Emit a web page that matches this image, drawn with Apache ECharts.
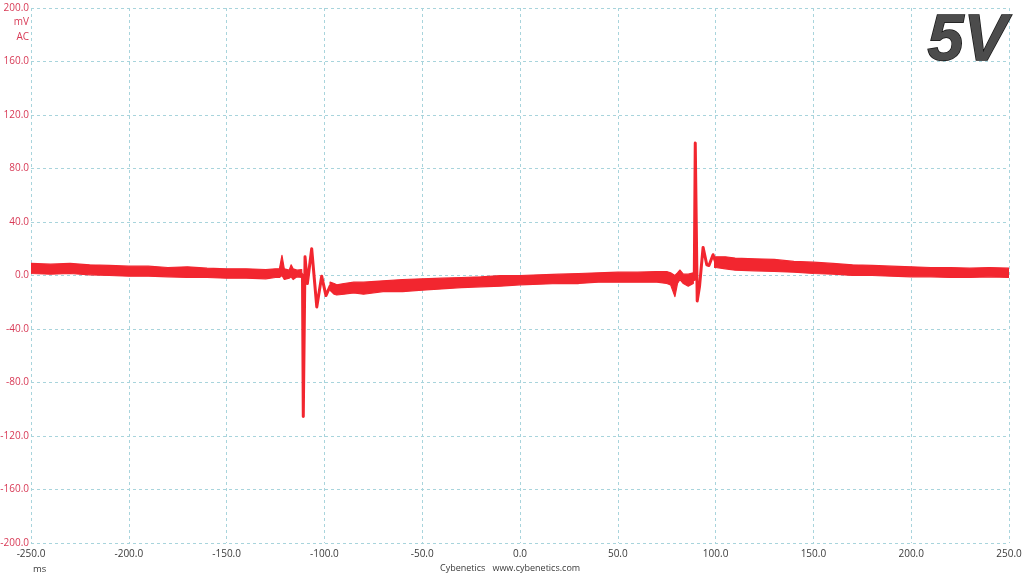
<!DOCTYPE html>
<html><head><meta charset="utf-8">
<script src="https://cdn.jsdelivr.net/npm/echarts@6/dist/echarts.min.js"></script>
<style>html,body{margin:0;padding:0;background:#fff}#c{width:1024px;height:576px}</style>
</head><body><div id="c"></div>
<script>
// Noise band: time (ms) with upper/lower envelope (mV); null breaks the band where the transient trace is drawn
const timeMs = [-250,-240,-230,-220,-210,-200,-190,-180,-170,-160,-150,-140,-130,-125,-123,-121.7,-120.5,-118,-117,-116,-114,-111.6,-105,-97.1,-95,-93.7,-90,-85,-80,-70,-60,-50,-40,-30,-20,-10,0,10,20,30,40,50,60,70,75,77,79.2,80.5,81.8,83.5,86,88.6,94,99.5,100,105,110,120,130,140,150,160,170,180,190,200,210,220,230,240,250];
const upperMv = [9,8.5,9,8,7.5,7,7,6,6.5,5.5,5,5,4.5,5,5,15,5,4,8,5,4,4.5,null,-5,-6,-7,-6,-5,-5,-4,-3,-2.5,-2,-1.5,-1,0,0,0.5,1,1.5,2,2.5,2.5,3,3,2,0,2,4.1,1,1,2,null,13,14,14,13,12.5,12,10.5,10,9,8,7.5,7,6.5,6,6,5.5,6,5.5];
const lowerMv = [1.5,1,1.5,0.5,0,-0.5,-0.5,-1,-1.5,-1.5,-2,-2,-2.5,-1.5,-1.5,0,-3,-2,-1,-3,-1,-1.5,null,-11,-14,-14.6,-14,-13,-14,-12,-12,-11,-10,-9,-8.5,-8,-7,-6.5,-6,-6,-5,-5,-5,-5,-6,-7,-15.8,-6,-3,-6,-8,-6,null,6,6,5,4,3.5,3,2.5,1.5,1,0,0,-0.5,-1,-1,-1.5,-1.5,-1,-1.5];
// Transient traces (ms, mV)
const spikeTimeMs = [-112,-111.2,-110.8,-109.9,-108.7,-106.5,-103.9,-101.4,-99.2,-97.1,-95.8, null, 88,89.1,89.6,90.6,91.8,93.6,95.5,96.6,98.7,100];
const spikeMv     = [1.5,0,-105.5,14,-6,20,-23.5,-0.5,-15,-8,-9, null, -2,-3,99,-19,-8,21,8,7.5,15.5,10];
const xTicks = {min:-250, max:250, step:50};
const yTicks = {min:-200, max:200, step:40};

const bandData = timeMs.map((t,i)=>[t, upperMv[i], lowerMv[i]]);
const spikeData = spikeTimeMs.map((t,i)=> t===null ? [null,null] : [t, spikeMv[i]]);
const RED = '#f2262f';
const chart = echarts.init(document.getElementById('c'));
const gridLine = {show:true, lineStyle:{color:'#a8d4dc', type:[3,3], width:1}};
chart.setOption({
  animation:false,
  textStyle:{fontFamily:'Open Sans'},
  grid:{left:31, right:15, top:8, bottom:33, containLabel:false, outerBoundsMode:'none'},
  xAxis:{type:'value', min:xTicks.min, max:xTicks.max, interval:xTicks.step,
    axisLine:{show:false}, axisTick:{show:false}, splitLine:gridLine,
    axisLabel:{color:'#3a3a3a', fontSize:10, margin:6, formatter:v=>v.toFixed(1)}},
  yAxis:{type:'value', min:yTicks.min, max:yTicks.max, interval:yTicks.step,
    axisLine:{show:false}, axisTick:{show:false}, splitLine:gridLine,
    axisLabel:{color:'#d83a56', fontSize:10, margin:2, formatter:v=>v.toFixed(1)}},
  series:[
    {type:'custom', data:bandData, encode:{x:0, y:[1,2]}, clip:true,
      renderItem:function(params, api){
        if (params.dataIndex !== 0) return null;
        const segs = []; let cur = [];
        bandData.forEach(d=>{ if (d[1]===null) { if (cur.length) segs.push(cur); cur=[]; } else cur.push(d); });
        if (cur.length) segs.push(cur);
        return {type:'group', children: segs.map(seg=>{
          const top = seg.map(d=>api.coord([d[0], d[1]]));
          const bot = seg.map(d=>api.coord([d[0], d[2]])).reverse();
          return {type:'polygon', shape:{points:top.concat(bot)},
            style:{fill:RED, stroke:RED, lineWidth:1.2, lineJoin:'round'}};
        })};
      }},
    {type:'line', data:spikeData, symbol:'none', connectNulls:false,
      lineStyle:{color:RED, width:3, join:'round'}}
  ],
  graphic:[
    {type:'text', x:29, y:17, style:{text:'mV', fill:'#d83a56', fontSize:10, fontFamily:'Open Sans', textAlign:'right', textVerticalAlign:'top'}},
    {type:'text', x:29, y:32, style:{text:'AC', fill:'#d83a56', fontSize:10, fontFamily:'Open Sans', textAlign:'right', textVerticalAlign:'top'}},
    {type:'text', x:33, y:564, style:{text:'ms', fill:'#3a3a3a', fontSize:9.5, fontFamily:'Open Sans', textVerticalAlign:'top'}},
    {type:'text', x:440, y:564, style:{text:'Cybenetics   www.cybenetics.com', fill:'#3a3a3a', fontSize:9, fontFamily:'Open Sans', textVerticalAlign:'top'}},
    {type:'text', x:1007, y:10, z:100, style:{text:'5V', fontSize:65, fontWeight:'bold', fontStyle:'italic', fontFamily:'Liberation Sans',
      textAlign:'right', textVerticalAlign:'top', fill:'#4c4c4c',
      stroke:'#161616', lineWidth:1.5, shadowColor:'rgba(0,0,0,0.3)', shadowBlur:3, shadowOffsetX:1.5, shadowOffsetY:1.5}}
  ]
});
</script></body></html>
